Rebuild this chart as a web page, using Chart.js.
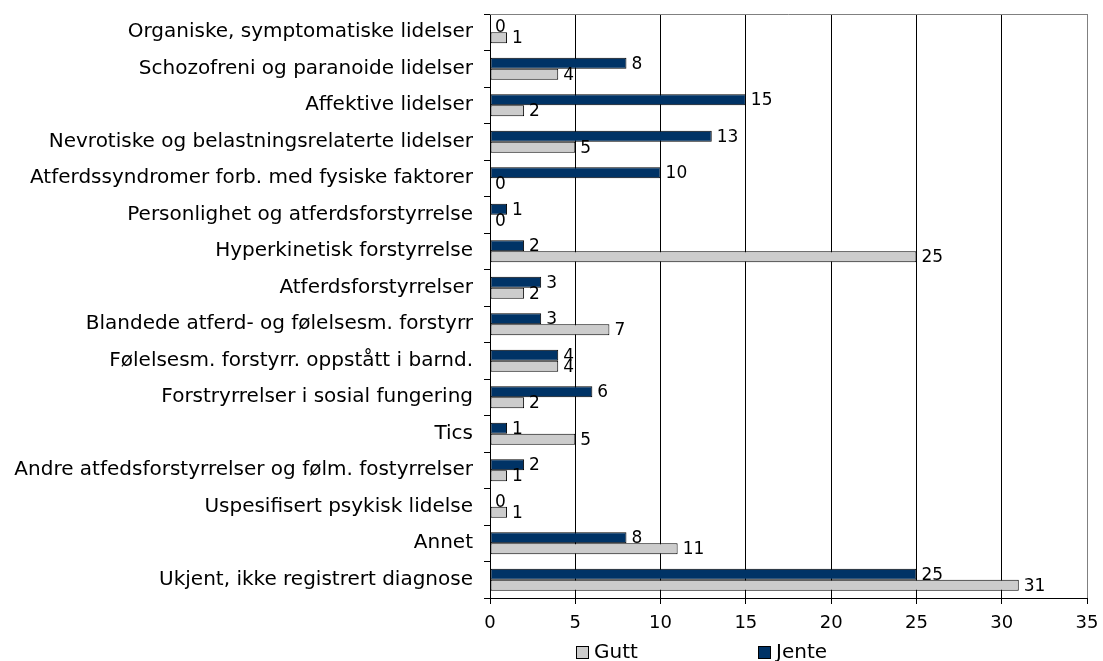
<!DOCTYPE html>
<html>
<head>
<meta charset="utf-8">
<script src="https://cdn.jsdelivr.net/npm/chart.js@4/dist/chart.umd.min.js"></script>
<style>
  html, body { margin: 0; padding: 0; background: #ffffff; }
  #wrap { width: 1103px; height: 661px; position: relative; }
</style>
</head>
<body>
<div id="wrap"><canvas id="diagnoser"></canvas></div>
<script>
const categories = [
    'Organiske, symptomatiske lidelser',
    'Schozofreni og paranoide lidelser',
    'Affektive lidelser',
    'Nevrotiske og belastningsrelaterte lidelser',
    'Atferdssyndromer forb. med fysiske faktorer',
    'Personlighet og atferdsforstyrrelse',
    'Hyperkinetisk forstyrrelse',
    'Atferdsforstyrrelser',
    'Blandede atferd- og følelsesm. forstyrr',
    'Følelsesm. forstyrr. oppstått i barnd.',
    'Forstryrrelser i sosial fungering',
    'Tics',
    'Andre atfedsforstyrrelser og følm. fostyrrelser',
    'Uspesifisert psykisk lidelse',
    'Annet',
    'Ukjent, ikke registrert diagnose'
];
const jente = [0, 8, 15, 13, 10, 1, 2, 3, 3, 4, 6, 1, 2, 0, 8, 25];
const gutt = [1, 4, 2, 5, 0, 0, 25, 2, 7, 4, 2, 5, 1, 1, 11, 31];
const xTicks = [0, 5, 10, 15, 20, 25, 30, 35];

const FONT = 'DejaVu Sans, Verdana, sans-serif';

// value labels at the end of each bar, plot frame and the legend row
const extras = {
    id: 'extras',
    beforeDatasetsDraw(chart) {
        const { ctx, chartArea: a } = chart;
        ctx.save();
        ctx.strokeStyle = '#808080';
        ctx.lineWidth = 1;
        ctx.beginPath();
        ctx.moveTo(a.left, a.top + 0.5);
        ctx.lineTo(a.right + 0.5, a.top + 0.5);
        ctx.lineTo(a.right + 0.5, a.bottom);
        ctx.stroke();
        ctx.restore();
    },
    afterDatasetsDraw(chart) {
        const { ctx } = chart;
        ctx.save();
        ctx.font = '17px ' + FONT;
        ctx.fillStyle = '#000000';
        ctx.textAlign = 'left';
        ctx.textBaseline = 'middle';
        chart.data.datasets.forEach((ds, i) => {
            chart.getDatasetMeta(i).data.forEach((bar, j) => {
                ctx.fillText(String(ds.data[j]), bar.x + 5, bar.y + 1);
            });
        });
        ctx.restore();
    },
    afterDraw(chart) {
        const { ctx } = chart;
        const items = [
            { text: 'Gutt', color: '#cccccc', x: 576 },
            { text: 'Jente', color: '#003366', x: 758 }
        ];
        ctx.save();
        ctx.font = '20px ' + FONT;
        ctx.textBaseline = 'middle';
        ctx.textAlign = 'left';
        items.forEach(it => {
            ctx.fillStyle = it.color;
            ctx.fillRect(it.x, 646, 13, 13);
            ctx.strokeStyle = '#000000';
            ctx.lineWidth = 1;
            ctx.strokeRect(it.x + 0.5, 646.5, 12, 12);
            ctx.fillStyle = '#000000';
            ctx.fillText(it.text, it.x + 18, 653);
        });
        ctx.restore();
    }
};

new Chart(document.getElementById('diagnoser'), {
    type: 'bar',
    data: {
        labels: categories,
        datasets: [
            {
                label: 'Jente',
                data: jente,
                backgroundColor: '#003366',
                borderColor: '#000000',
                borderWidth: 1,
                borderSkipped: false,
                categoryPercentage: 0.6,
                barPercentage: 1.0
            },
            {
                label: 'Gutt',
                data: gutt,
                backgroundColor: '#cccccc',
                borderColor: '#000000',
                borderWidth: 1,
                borderSkipped: false,
                categoryPercentage: 0.6,
                barPercentage: 1.0
            }
        ]
    },
    options: {
        indexAxis: 'y',
        responsive: true,
        maintainAspectRatio: false,
        animation: false,
        layout: { padding: { left: 0, right: 16, top: 14, bottom: 33 } },
        plugins: {
            legend: { display: false },
            tooltip: { enabled: false }
        },
        scales: {
            x: {
                min: 0,
                max: 35,
                afterBuildTicks: scale => {
                    scale.ticks = xTicks.map(v => ({ value: v }));
                },
                afterFit: scale => {
                    scale.height = 30;
                    scale.paddingLeft = 0;
                    scale.paddingRight = 0;
                },
                grid: {
                    color: ctx => ctx.tick && ctx.tick.value === 35 ? '#808080' : '#000000',
                    lineWidth: 1,
                    tickLength: 6,
                    tickColor: '#000000'
                },
                border: { color: '#000000', width: 1 },
                ticks: {
                    color: '#000000',
                    padding: 9,
                    font: { family: FONT, size: 18 }
                }
            },
            y: {
                afterFit: scale => {
                    scale.width = 490;
                    scale.paddingTop = 0;
                    scale.paddingBottom = 0;
                },
                grid: {
                    offset: true,
                    drawOnChartArea: false,
                    tickLength: 6,
                    tickColor: '#000000'
                },
                border: { color: '#000000', width: 1 },
                ticks: {
                    color: '#000000',
                    padding: 11,
                    autoSkip: false,
                    font: { family: FONT, size: 20 }
                }
            }
        }
    },
    plugins: [extras]
});
</script>
</body>
</html>
